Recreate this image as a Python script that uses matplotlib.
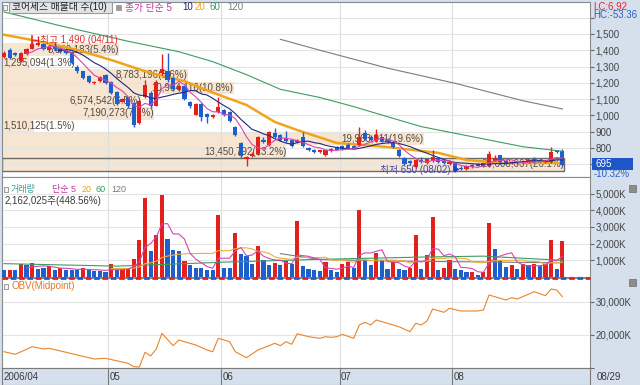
import numpy as np
import pandas as pd
import matplotlib
matplotlib.use("Agg")
import matplotlib.pyplot as plt
from matplotlib.patches import Rectangle
from matplotlib.lines import Line2D

plt.rcParams['font.family'] = ['Liberation Sans', 'Noto Sans CJK KR', 'DejaVu Sans']

# ---- daily candles (2006/04 .. 08/29) ----
opn = [1360, 1400, 1380, 1335, 1375, 1410, 1430, 1440, 1400, 1425,
       1410, 1400, 1390, 1300, 1270, 1240, 1200, 1210, 1248, 1205,
       1145, 1085, 1110, 1075, 955, 1115, 1135, 1060, 1262, 1270,
       1228, 1158, 1178, 1085, 1005, 1073, 1010, 992, 1020, 1035,
       1020, 930, 830, 730, 750, 765, 850, 820, 890, 878,
       860, 850, 835, 870, 800, 790, 775, 758, 780, 805,
       810, 820, 815, 820, 890, 870, 840, 865, 850, 830,
       788, 738, 720, 685, 725, 705, 720, 740, 720, 700,
       705, 680, 672, 685, 700, 688, 690, 720, 755, 720,
       705, 715, 705, 712, 730, 725, 715, 712, 785, 780]
high = [1395, 1415, 1390, 1390, 1415, 1455, 1490, 1445, 1425, 1450,
        1420, 1410, 1395, 1310, 1275, 1245, 1212, 1242, 1255, 1210,
        1150, 1108, 1115, 1080, 1092, 1218, 1150, 1215, 1378, 1380,
        1235, 1185, 1182, 1090, 1078, 1078, 1015, 1010, 1115, 1040,
        1025, 935, 835, 750, 775, 875, 870, 905, 920, 885,
        905, 855, 855, 900, 805, 795, 790, 790, 800, 810,
        820, 830, 820, 930, 912, 880, 915, 870, 860, 835,
        792, 745, 728, 735, 745, 735, 790, 745, 725, 718,
        710, 690, 695, 700, 705, 710, 782, 760, 760, 725,
        718, 720, 722, 730, 745, 735, 728, 805, 790, 792]
low = [1355, 1345, 1365, 1330, 1370, 1405, 1425, 1400, 1395, 1400,
       1385, 1375, 1315, 1262, 1225, 1200, 1195, 1205, 1195, 1130,
       1065, 1080, 1045, 928, 950, 1105, 1045, 1055, 1250, 1205,
       1150, 1150, 1095, 1048, 1000, 965, 953, 985, 1015, 995,
       958, 875, 740, 692, 745, 760, 830, 815, 860, 845,
       835, 805, 830, 805, 780, 770, 770, 752, 775, 785,
       790, 795, 798, 815, 850, 845, 835, 835, 830, 800,
       742, 695, 695, 680, 705, 700, 715, 710, 700, 695,
       650, 662, 668, 680, 688, 685, 685, 720, 700, 700,
       700, 700, 702, 708, 710, 712, 710, 708, 768, 688]
close = [1385, 1350, 1370, 1385, 1408, 1436, 1442, 1405, 1418, 1405,
         1392, 1380, 1322, 1270, 1230, 1208, 1205, 1236, 1200, 1140,
         1072, 1100, 1055, 940, 1088, 1185, 1055, 1205, 1285, 1215,
         1160, 1178, 1102, 1055, 1073, 988, 990, 1005, 1052, 1000,
         965, 882, 748, 745, 765, 868, 835, 898, 865, 852,
         845, 812, 850, 810, 785, 775, 785, 785, 795, 790,
         795, 800, 802, 868, 855, 850, 880, 840, 835, 805,
         748, 700, 705, 725, 712, 730, 745, 715, 705, 712,
         660, 670, 690, 695, 692, 705, 765, 740, 715, 705,
         712, 705, 718, 725, 715, 718, 725, 775, 775, 695]

# volume (thousand shares) and the bar colour the chart uses (R up / B down)
volume = [390, 430, 390, 750, 720, 830, 490, 550, 630, 430,
          550, 440, 430, 420, 550, 390, 380, 370, 290, 750,
          390, 430, 490, 1050, 2190, 4740, 1530, 2490, 4940, 2290,
          1630, 1550, 930, 690, 550, 540, 430, 390, 3720, 550,
          540, 2620, 1400, 1230, 790, 1830, 990, 690, 830, 690,
          950, 790, 3340, 630, 490, 430, 350, 890, 390, 290,
          750, 890, 550, 4020, 1030, 690, 1420, 990, 490, 890,
          490, 390, 550, 2540, 490, 1300, 3620, 390, 550, 1030,
          490, 430, 290, 290, 90, 290, 3220, 1690, 1030, 610,
          690, 490, 790, 690, 750, 630, 790, 2190, 490, 2162]
vol_dir = ("BRBRBRBBRB" "RBBBRBBBBR" "BRRRRRBRRB" "BBRBBBBBRB" "BRBBBRBBRB"
           "RBRBBBBRBB" "RRBRBBRBBR" "BBRRBRRBRR" "BBBRBRRBBB" "RBRBRBRRBR")

# long moving averages (need history before the window) read as points
ma20_idx = [0, 5, 13, 19, 26, 32, 37, 43, 48, 52, 59, 68, 77, 82, 88, 99]
ma20_val = [1495, 1463, 1402, 1340, 1260, 1210, 1140, 1064, 960, 910,
            831, 806, 770, 727, 708, 708]
ma60_idx = [0, 10, 22, 31, 37, 43, 49, 56, 62, 68, 74, 80, 86, 92, 99]
ma60_val = [1635, 1550, 1455, 1391, 1330, 1250, 1160, 1110, 1054, 992,
            931, 890, 849, 808, 780]
ma120_idx = [49, 56, 68, 80, 92, 99]
ma120_val = [1467, 1400, 1290, 1197, 1090, 1040]
vma60_idx = [0, 20, 40, 55, 75, 85, 99]
vma60_val = [800, 650, 900, 1050, 1200, 1250, 1000]
vma120_idx = [49, 56, 70, 85, 99]
vma120_val = [1400, 1050, 950, 900, 850]

obv_idx = [0, 2, 5, 7, 8, 11, 16, 18, 22, 23, 24, 25, 26, 27, 28, 30, 31, 34,
           36, 37, 38, 40, 41, 43, 45, 47, 48, 49, 50, 51, 52, 54, 56, 57, 58,
           59, 60, 62, 63, 64, 65, 66, 68, 70, 72, 73, 74, 75, 76, 78, 79, 81,
           84, 85, 86, 89, 90, 91, 94, 96, 97, 98, 99]
obv_val = [14940, 14150, 16450, 15760, 15970, 14760, 12730, 12940, 11420, 10400,
           10300, 14760, 13640, 15760, 20500, 16760, 18480, 16970, 15450, 14940,
           19000, 17970, 14940, 13120, 15450, 16760, 17480, 16760, 17970, 17180,
           20390, 19480, 19000, 19480, 19300, 19480, 20200, 19000, 23030, 23850,
           23030, 24550, 23540, 22520, 21000, 23540, 23030, 24240, 27880, 26880,
           28090, 27270, 27270, 27580, 32120, 30600, 31300, 30900, 33120, 31910,
           33940, 33640, 31610]

# volume-at-price bands (매물대), bottom to top
band_vol = [26600667, 13450792, 19963011, 1510125, 7190273,
            6574542, 10964116, 8783196, 1295094, 5540183]

month_labels = ['2006/04', '05', '06', '07', '08']
month_first = [0, 19, 39, 60, 80]

opn, high, low, close = map(np.array, (opn, high, low, close))
volume = np.array(volume)
n = len(close)
x = np.arange(n)

RED = '#e4201c'
BLUE = '#1f5fcc'
GRID = '#dedede'
EDGE = '#8a8a8a'
PANEL = '#d6e0ed'
PEACH = '#f6e5d1'

W, H = 640, 385
fig = plt.figure(figsize=(6.4, 3.85), dpi=100, facecolor=PANEL)


def box(x0, y0, x1, y1):
    return [x0 / W, 1 - y1 / H, (x1 - x0) / W, (y1 - y0) / H]


def ftext(px, py, s, **kw):
    kw.setdefault('fontsize', 7)
    fig.text(px / W, 1 - py / H, s, va='center', **kw)


def frect(x0, y0, x1, y1, **kw):
    fig.add_artist(Rectangle((x0 / W, 1 - y1 / H), (x1 - x0) / W, (y1 - y0) / H,
                             transform=fig.transFigure, **kw))


xlo, xhi = -0.355, 103.9
ax_p = fig.add_axes(box(2, 2, 590, 177))
ax_v = fig.add_axes(box(2, 177, 590, 277))
ax_o = fig.add_axes(box(2, 278, 590, 368))
ax_x = fig.add_axes(box(2, 368, 590, 385))

for ax in (ax_p, ax_v, ax_o):
    ax.set_xlim(xlo, xhi)
    ax.set_facecolor('white')
    for s in ax.spines.values():
        s.set_color(EDGE)
    ax.yaxis.tick_right()
    ax.tick_params(axis='x', length=0, labelbottom=False)
    ax.tick_params(axis='y', direction='out', length=3, width=0.8,
                   color='#666666', labelcolor='#444444', labelsize=7, pad=1)
    for m in month_first[1:]:
        ax.axvline(m - 0.5, color=GRID, lw=0.8, zorder=1)

# ---------------- price panel ----------------
ax_p.set_ylim(622, 1696)
pticks = list(range(700, 1700, 100))
ax_p.set_yticks(pticks, ['' if t in (700, 1600) else f'{t:,}' for t in pticks])
for t in pticks:
    ax_p.axhline(t, color='#e4e4e4', lw=0.8, zorder=1)

edges = np.linspace(close.min(), close.max(), len(band_vol) + 1)
bh = edges[1] - edges[0]
tot = sum(band_vol)
full = (n - 1 + 0.3) - xlo
for k, v in enumerate(band_vol):
    w = v / max(band_vol) * full
    yc = (edges[k] + edges[k + 1]) / 2
    ax_p.barh(yc, w, height=bh, left=xlo, color=PEACH, zorder=0.5, lw=0)
    lab = f'{v:,}({v / tot * 100:.1f}%)'
    if w < 14:
        ax_p.text(xlo + 0.2, yc, lab, ha='left', va='center', fontsize=7,
                  color='#55493c', zorder=2)
    else:
        ax_p.text(xlo + w, yc, lab, ha='right', va='center', fontsize=7,
                  color='#55493c', zorder=2)
    if edges[k] <= close[-1] <= edges[k + 1]:
        ax_p.add_patch(Rectangle((xlo, edges[k]), w, bh, fill=False,
                                 ec='#6c6c6c', lw=1, zorder=2.2))

up = close >= opn
ccol = np.where(up, RED, BLUE)
ax_p.vlines(x, low, high, colors=ccol, lw=1, zorder=3)
ax_p.bar(x, np.maximum(np.abs(close - opn), 5), bottom=np.minimum(opn, close),
         width=0.74, color=ccol, lw=0, zorder=4)

cs = pd.Series(close)
ax_p.plot(ma20_idx, ma20_val, color='#f0a41a', lw=1.8, zorder=2.5)
ax_p.plot(ma60_idx, ma60_val, color='#3d9c62', lw=0.8, zorder=5)
ax_p.plot(ma120_idx, ma120_val, color='#7c7c7c', lw=0.8, zorder=5)
ax_p.plot(x, cs.rolling(10).mean(), color='#24277a', lw=0.8, zorder=5)
ax_p.plot(x, cs.rolling(5).mean(), color='#d446b4', lw=0.8, zorder=5)

hi_i = int(np.argmax(high))
lo_i = int(np.argmin(low))
ax_p.plot([hi_i - 1.0, hi_i - 1.0], [1440, 1490], color='#e03030', lw=1.2, zorder=6)
ax_p.plot([hi_i - 1.0, hi_i - 0.2], [1465, 1465], color='#e03030', lw=0.8, zorder=6)
ax_p.text(hi_i + 0.4, 1462, f'최고 {high.max():,} (04/11)', color='#e03030',
          fontsize=7, va='center', ha='left', zorder=6)
ax_p.text(lo_i - 0.8, 663, f'최저 {low.min():,} (08/02)', color='#4646a6',
          fontsize=7, va='center', ha='right', zorder=6)
ax_p.text(lo_i - 0.6, 660, '▶', color='#1e3cc8', fontsize=5, va='center',
          ha='left', zorder=6)

# ---------------- volume panel ----------------
ax_v.set_ylim(0, 5990)
vticks = [1000, 2000, 3000, 4000, 5000]
ax_v.set_yticks(vticks, [f'{t:,}K' for t in vticks])
for t in vticks:
    ax_v.axhline(t, color='#e4e4e4', lw=0.8, zorder=1)
vcol = [RED if c == 'R' else BLUE for c in vol_dir]
ax_v.bar(x, volume, width=0.74, color=vcol, lw=0, zorder=3)
vs = pd.Series(volume)
ax_v.plot(vma60_idx, vma60_val, color='#3d9c62', lw=0.8, zorder=4)
ax_v.plot(vma120_idx, vma120_val, color='#7c7c7c', lw=0.8, zorder=4)
ax_v.plot(x, vs.rolling(20).mean(), color='#efae3a', lw=0.8, zorder=4)
ax_v.plot(x, vs.rolling(5).mean(), color='#d446b4', lw=0.8, zorder=4)

# ---------------- OBV panel ----------------
ax_o.set_ylim(10000, 37270)
oticks = [10000, 20000, 30000]
ax_o.set_yticks(oticks, ['', '20,000K', '30,000K'])
for t in oticks[1:]:
    ax_o.axhline(t, color='#e4e4e4', lw=0.8, zorder=1)
ax_o.plot(obv_idx, obv_val, color='#e8842c', lw=0.8, zorder=3)

# ---------------- date strip ----------------
ax_x.set_xlim(xlo, xhi)
ax_x.set_ylim(0, 1)
ax_x.set_facecolor(PANEL)
ax_x.set_xticks([])
ax_x.set_yticks([])
for s in ax_x.spines.values():
    s.set_color('#7a7a7a')
for m, lab in zip(month_first, month_labels):
    if m > 0:
        ax_x.axvline(m - 0.5, color='#7a7a7a', lw=0.8)
    ax_x.text(max(m - 0.5, xlo) + 0.25, 0.45, lab, fontsize=7, color='#3a3a3a',
              va='center', ha='left')
ftext(597, 377, '08/29', color='#3a3a3a')

# splitter between volume and OBV
for off, c in ((0, RED), (3, BLUE)):
    fig.add_artist(Line2D([2 / W, 590 / W], [1 - 277.5 / H] * 2, transform=fig.transFigure,
                          color=c, lw=2, linestyle=(off, (2, 4))))

# ---------------- legends ----------------
frect(3, 5, 7, 10, fc='#f4f4f4', ec='#8a8a8a', lw=0.6)
frect(9, 2, 112, 13, fc='#e4e4e4', ec='#9a9a9a', lw=0.8)
ftext(12, 7.5, '코어세스 매물대 수(10)', color='#202020')
frect(116, 5, 121, 10, fc='#9a9a9a', ec='#9a9a9a', lw=0.6)
ftext(125, 7.5, '종가 단순 5', color='#c2379f')
ftext(182, 7.5, '10', color='#24277a')
ftext(195, 7.5, '20', color='#e9a21a')
ftext(210, 7.5, '60', color='#3d9c62')
ftext(227, 7.5, '120', color='#7c7c7c')

frect(4, 187, 8, 192, fc='#f4f4f4', ec='#8a8a8a', lw=0.6)
ftext(11, 190, '거래량', color='#3a9c9c', fontsize=6.5)
ftext(52, 190, '단순 5', color='#c2379f', fontsize=6.5)
ftext(82, 190, '20', color='#e9a21a', fontsize=6.5)
ftext(96, 190, '60', color='#3d9c62', fontsize=6.5)
ftext(111, 190, '120', color='#7c7c7c', fontsize=6.5)
ftext(5, 201, '2,162,025주(448.56%)', color='#3a3a3a')

frect(4, 284, 8, 289, fc='#f4f4f4', ec='#8a8a8a', lw=0.6)
ftext(12, 286, 'OBV(Midpoint)', color='#e07a2a')

# ---------------- right panel notes ----------------
ftext(593, 6.5, 'LC:6.92', color='#e0282c')
ftext(593, 15.5, 'HC:-53.36', color='#2a62c0')
frect(592, 158, 633, 170, fc='#1e56c8', ec='none')
ftext(595, 164, f'{close[-1]}', color='white')
ftext(594, 174, f'{(close[-1] / close[-2] - 1) * 100:.2f}%', color='#2a62c0')
for yy in (185, 279):
    frect(629, yy, 636, yy + 7, fc='#8c8c8c', ec='#6c6c6c', lw=0.5)

fig.savefig('out.png', dpi=100, facecolor=PANEL)
